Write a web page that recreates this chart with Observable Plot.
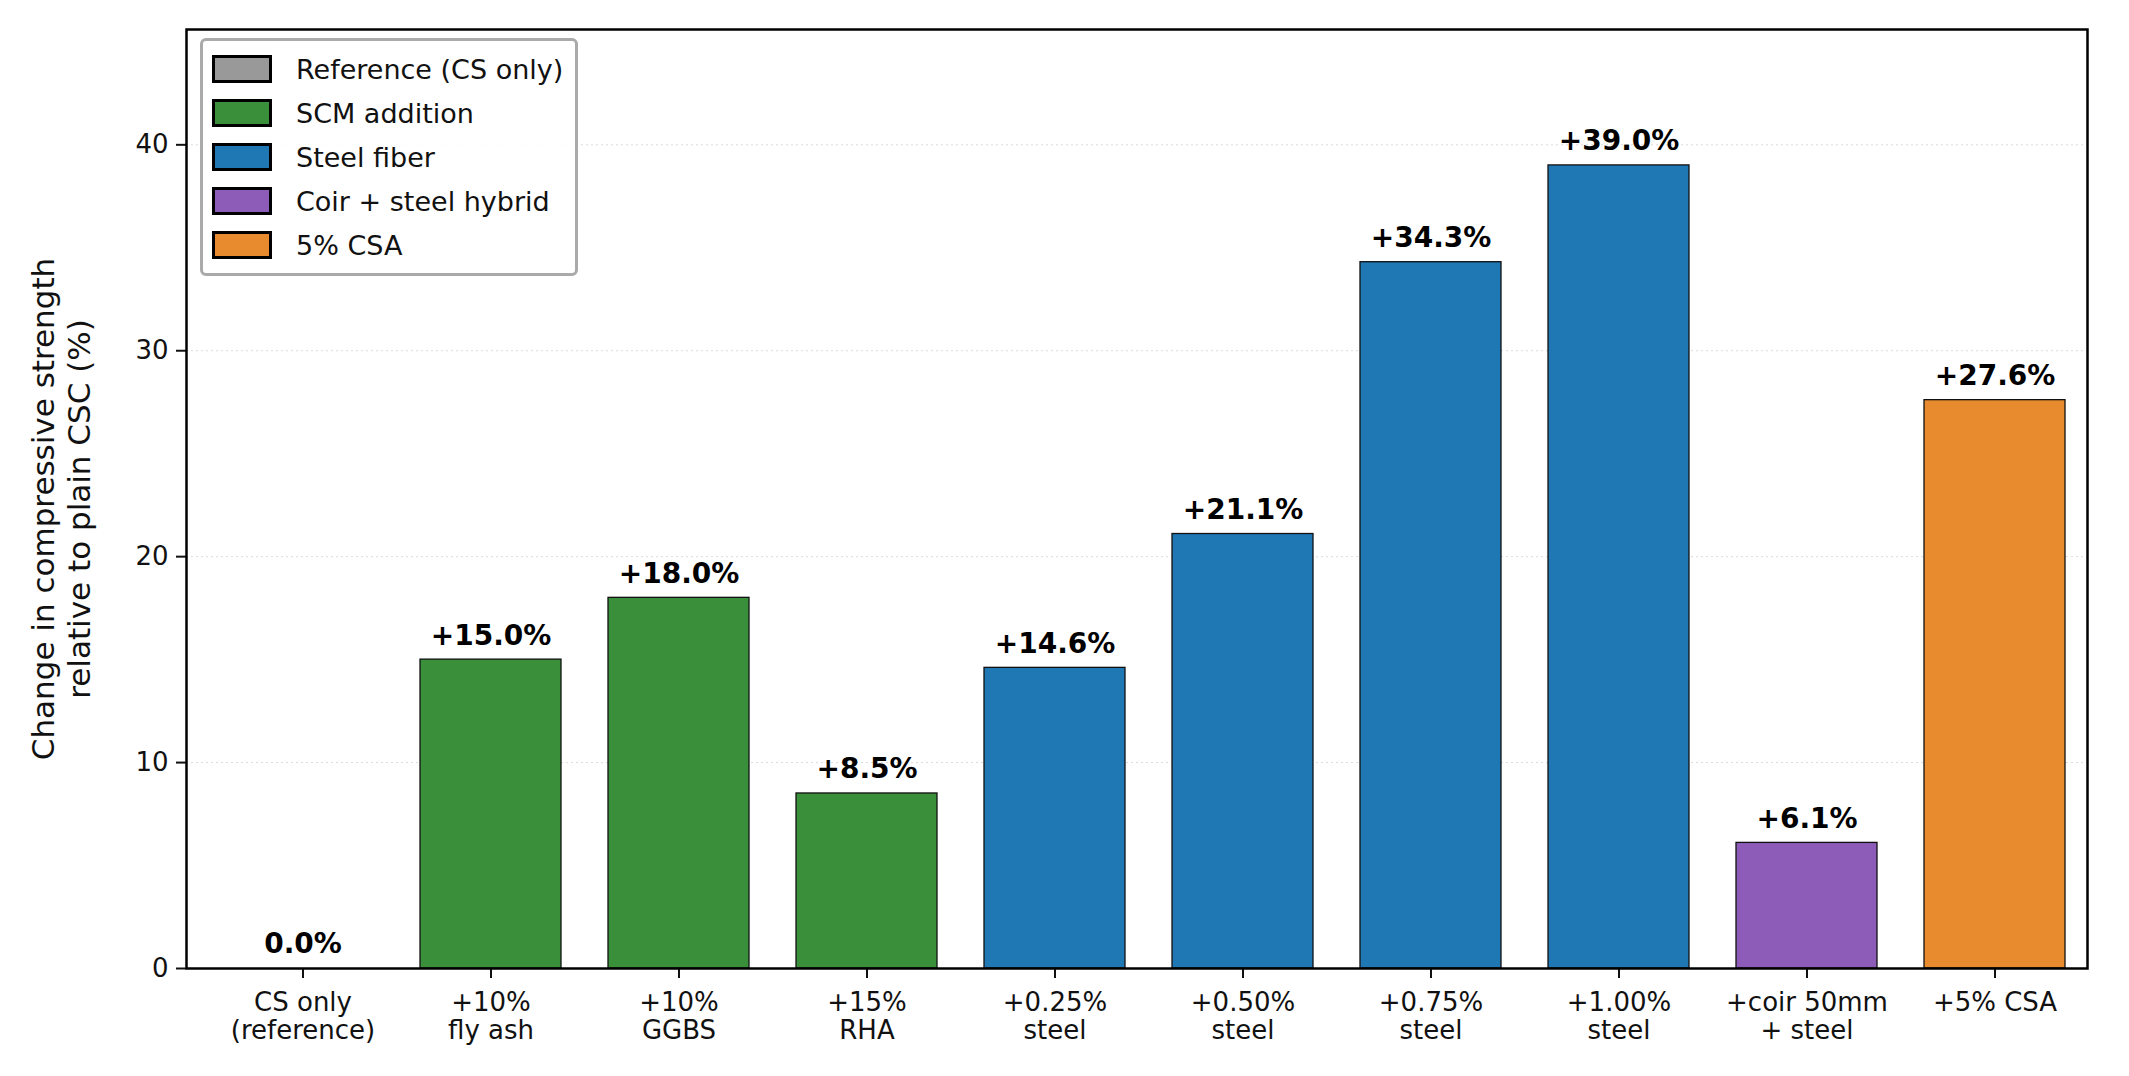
<!DOCTYPE html>
<html><head><meta charset="utf-8">
<script src="https://cdn.jsdelivr.net/npm/d3@7"></script>
<script src="https://cdn.jsdelivr.net/npm/@observablehq/plot@0.6"></script>
<style>
body{margin:0;background:#fff;font-family:"DejaVu Sans",sans-serif;}
#wrap{position:relative;width:2129px;height:1076px;}
#legend{position:absolute;left:200px;top:38px;padding:6px 12px 6px 0;border:3px solid #aaa;border-radius:6px;background:rgba(255,255,255,0.9);box-sizing:border-box;}
.row{display:flex;align-items:center;height:44px;margin-left:9px;font-size:27px;color:#111;white-space:nowrap;}
.sw{width:60px;height:28px;border:3px solid #000;box-sizing:border-box;margin-right:24px;}
</style></head><body>
<div id="wrap"><div id="chart"></div><div id="legend"></div></div>
<script>
const categories = ["CS only\n(reference)","+10%\nfly ash","+10%\nGGBS","+15%\nRHA","+0.25%\nsteel","+0.50%\nsteel","+0.75%\nsteel","+1.00%\nsteel","+coir 50mm\n+ steel","+5% CSA"];
const values = [0.0,15.0,18.0,8.5,14.6,21.1,34.3,39.0,6.1,27.6];
const groups = ["Reference (CS only)","SCM addition","SCM addition","SCM addition","Steel fiber","Steel fiber","Steel fiber","Steel fiber","Coir + steel hybrid","5% CSA"];
const groupNames = ["Reference (CS only)","SCM addition","Steel fiber","Coir + steel hybrid","5% CSA"];
const groupColors = ["#999999","#3a8f3a","#1f77b4","#8c5cb8","#e88b2f"];
const yTicks = [0,10,20,30,40];
const yLabel = "Change in compressive strength\nrelative to plain CSC (%)";

const data = categories.map((c,i)=>({cat:c,val:values[i],grp:groups[i]}));
const fmt = v => (v>0?"+":"")+v.toFixed(1)+"%";

const chart = Plot.plot({
  width:2129, height:1076,
  marginLeft:186, marginRight:42, marginTop:29, marginBottom:108,
  style:{fontFamily:"DejaVu Sans, sans-serif", fontSize:"26px", color:"#111"},
  x:{domain:categories, paddingInner:0.25, paddingOuter:0.175, align:0.67, label:null},
  y:{domain:[0,45.6], label:null},
  color:{domain:groupNames, range:groupColors},
  marks:[
    Plot.gridY(yTicks.slice(1), {stroke:"#ccc", strokeOpacity:0.7, strokeDasharray:"2,3"}),
    Plot.barY(data,{x:"cat",y:"val",fill:"grp",stroke:"#111",strokeWidth:1.3}),
    Plot.text(data,{x:"cat",y:"val",text:d=>fmt(d.val),dy:-24,fontWeight:"bold",fontSize:28,fill:"#000"}),
    Plot.axisY({ticks:yTicks, tickSize:10, tickPadding:8, fontSize:26, label:null, strokeWidth:2}),
    Plot.axisX({tickSize:10, tickPadding:12, fontSize:26, label:null, lineHeight:1.1, strokeWidth:2}),
    Plot.frame({stroke:"#000", strokeWidth:2.5}),
    Plot.text([yLabel],{frameAnchor:"left", textAnchor:"middle", dx:-126, rotate:-90, fontSize:31, lineHeight:1.15, fill:"#111", dy:10})
  ]
});
document.getElementById("chart").appendChild(chart);
const lg = document.getElementById("legend");
groupNames.forEach((g,i)=>{
  const r=document.createElement("div"); r.className="row";
  r.innerHTML=`<div class="sw" style="background:${groupColors[i]}"></div><span>${g}</span>`;
  lg.appendChild(r);
});
</script></body></html>
